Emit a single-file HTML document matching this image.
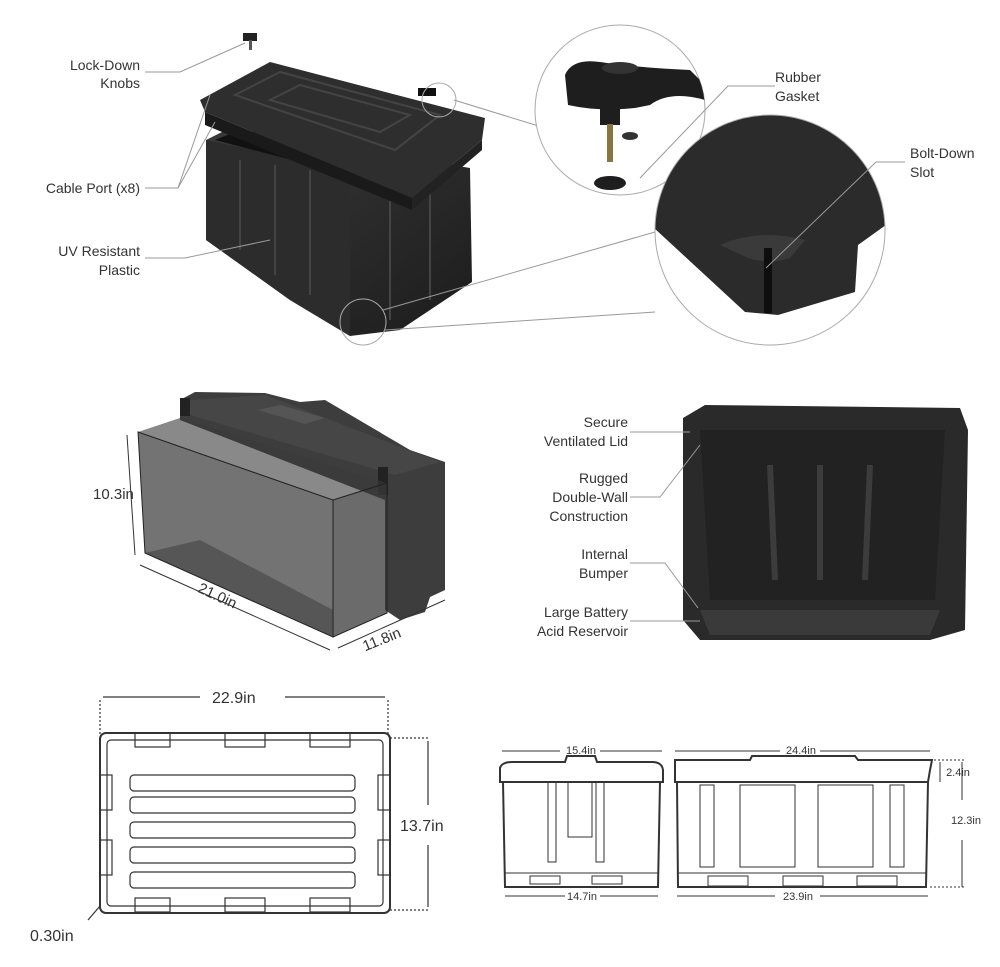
<!DOCTYPE html>
<html><head><meta charset="utf-8"><style>
html,body{margin:0;padding:0;background:#fff;width:1000px;height:967px;overflow:hidden}
svg{display:block}
text{font-family:"Liberation Sans",sans-serif;fill:#333}
</style></head><body>
<svg width="1000" height="967" viewBox="0 0 1000 967">
<defs>
<linearGradient id="g1" x1="0" y1="0" x2="1" y2="1"><stop offset="0" stop-color="#3a3a3a"/><stop offset="1" stop-color="#1c1c1c"/></linearGradient>
<clipPath id="c2"><circle cx="770" cy="230" r="115"/></clipPath>
<clipPath id="c1"><circle cx="620" cy="110" r="85"/></clipPath>
</defs>
<!-- ===== TOP: exploded box ===== -->
<polygon points="206,140 230,128 470,168 472,282 400,330 350,336 290,300 206,240" fill="url(#g1)"/>
<polygon points="206,140 350,170 350,336 290,300 206,240" fill="#2c2c2c"/>
<polygon points="215,140 240,130 455,168 350,175" fill="#111"/>
<g stroke="#444" stroke-width="2"><line x1="240" y1="160" x2="240" y2="250"/><line x1="275" y1="165" x2="275" y2="275"/><line x1="310" y1="170" x2="310" y2="295"/><line x1="390" y1="195" x2="390" y2="320"/><line x1="430" y1="190" x2="430" y2="300"/></g>
<polygon points="200,100 270,62 485,118 482,140 412,198 205,112" fill="#2e2e2e"/>
<polygon points="205,112 412,198 412,210 205,125" fill="#1a1a1a"/>
<polygon points="412,198 482,140 482,150 412,210" fill="#222"/>
<g fill="none" stroke="#444" stroke-width="2"><polygon points="235,95 280,72 440,115 395,150"/><polygon points="270,100 300,85 410,115 380,132"/></g>
<rect x="243" y="33" width="14" height="8" fill="#222"/><rect x="249" y="40" width="3" height="10" fill="#555"/>
<rect x="418" y="88" width="18" height="8" fill="#111"/>
<circle cx="439" cy="100" r="17" fill="none" stroke="#aaa"/>
<circle cx="363" cy="322" r="23" fill="none" stroke="#aaa"/>
<circle cx="358" cy="325" r="8" fill="#222"/>
<g stroke="#999" stroke-width="1" fill="none">
<polyline points="145,72 180,72 245,43"/>
<polyline points="145,188 178,188 210,95"/>
<polyline points="178,188 215,122"/>
<polyline points="145,258 185,258 270,240"/>
<line x1="454" y1="100" x2="545" y2="128"/>
<line x1="383" y1="310" x2="655" y2="232"/>
<line x1="385" y1="330" x2="655" y2="312"/>
</g>
<!-- zoom circle 1 -->
<circle cx="620" cy="110" r="85" fill="#fff" stroke="#aaa"/>
<g clip-path="url(#c1)">
<path d="M565,75 Q572,58 600,62 Q640,68 690,70 L705,85 L705,100 Q670,90 650,105 L635,108 Q600,112 568,105Z" fill="#1e1e1e"/>
<ellipse cx="620" cy="68" rx="18" ry="6" fill="#333"/>
<rect x="600" y="105" width="20" height="20" fill="#1e1e1e"/>
<rect x="607" y="124" width="6" height="38" fill="#8a7440"/>
<ellipse cx="630" cy="136" rx="8" ry="4" fill="#333"/>
<ellipse cx="610" cy="183" rx="16" ry="7" fill="#1e1e1e"/>
</g>
<!-- zoom circle 2 -->
<circle cx="770" cy="230" r="115" fill="#2b2b2b"/>
<g clip-path="url(#c2)">
<path d="M640,215 L745,312 L778,315 L855,292 L858,245 L890,222 L890,350 L640,350Z" fill="#fff"/>
<path d="M720,245 Q760,228 805,240 L790,258 Q770,265 748,258Z" fill="#3a3a3a"/>
<rect x="764" y="248" width="8" height="65" fill="#0e0e0e"/>
</g>
<circle cx="770" cy="230" r="115" fill="none" stroke="#aaa"/>
<g stroke="#999" stroke-width="1" fill="none">
<polyline points="775,86 728,86 640,178"/>
<polyline points="905,162 876,162 766,268"/>
</g>
<g font-size="14" text-anchor="end">
<text x="140" y="70">Lock-Down</text><text x="140" y="88">Knobs</text>
<text x="140" y="193">Cable Port (x8)</text>
<text x="140" y="256">UV Resistant</text><text x="140" y="275">Plastic</text>
</g>
<g font-size="14">
<text x="775" y="82">Rubber</text><text x="775" y="101">Gasket</text>
<text x="910" y="158">Bolt-Down</text><text x="910" y="177">Slot</text>
</g>
<!-- ===== MIDDLE LEFT ===== -->
<polygon points="180,400 195,392 265,393 300,402 325,400 410,450 445,462 445,590 430,597 425,612 400,620 385,610 385,500 180,420" fill="#3d3d3d"/>
<polygon points="190,400 265,395 440,462 395,475 190,415" fill="#464646"/>
<polygon points="258,410 280,405 325,418 305,424" fill="#555"/>
<rect x="180" y="398" width="10" height="18" fill="#222"/>
<rect x="378" y="467" width="10" height="28" fill="#222"/>
<polygon points="138,432 180,418 387,483 333,500" fill="#3a3a3a" fill-opacity="0.6"/>
<polygon points="138,432 333,500 333,637 145,553" fill="#444" fill-opacity="0.75" stroke="#222"/>
<polygon points="333,500 387,483 387,613 333,637" fill="#3a3a3a" fill-opacity="0.75" stroke="#222"/>
<polygon points="145,553 333,637 333,610 200,540" fill="#2a2a2a" fill-opacity="0.4"/>
<g stroke="#333" stroke-width="1" fill="none">
<line x1="127" y1="435" x2="135" y2="555"/><line x1="140" y1="565" x2="330" y2="650"/><line x1="338" y1="648" x2="445" y2="600"/>
</g>
<text x="93" y="499" font-size="15">10.3in</text>
<text x="195" y="600" font-size="15" transform="rotate(25 215 600)">21.0in</text>
<text x="362" y="645" font-size="15" transform="rotate(-22 380 640)">11.8in</text>
<!-- ===== MIDDLE RIGHT ===== -->
<polygon points="683,418 705,405 960,408 968,430 965,630 930,640 700,640 683,620" fill="#2a2a2a"/>
<polygon points="700,430 945,430 935,600 710,600" fill="#222"/>
<g stroke="#3c3c3c" stroke-width="6" fill="none"><line x1="770" y1="465" x2="775" y2="580"/><line x1="820" y1="465" x2="820" y2="580"/><line x1="870" y1="465" x2="865" y2="580"/></g>
<path d="M700,610 L940,610 L930,635 L710,635Z" fill="#3a3a3a"/>
<g stroke="#999" fill="none"><polyline points="630,432 690,432"/><polyline points="630,497 660,497 700,445"/><polyline points="630,563 665,563 698,608"/><polyline points="630,621 700,621"/></g>
<g font-size="14" text-anchor="end">
<text x="628" y="427">Secure</text><text x="628" y="446">Ventilated Lid</text>
<text x="628" y="483">Rugged</text><text x="628" y="502">Double-Wall</text><text x="628" y="521">Construction</text>
<text x="628" y="559">Internal</text><text x="628" y="578">Bumper</text>
<text x="628" y="617">Large Battery</text><text x="628" y="636">Acid Reservoir</text>
</g>
<!-- ===== BOTTOM LEFT top view ===== -->
<g stroke="#333" fill="none" stroke-width="1.2">
<line x1="100" y1="700" x2="100" y2="735" stroke-dasharray="2 2"/><line x1="388" y1="700" x2="388" y2="735" stroke-dasharray="2 2"/>
<line x1="103" y1="697" x2="200" y2="697"/><line x1="285" y1="697" x2="385" y2="697"/>
<line x1="390" y1="738" x2="430" y2="738" stroke-dasharray="2 2"/><line x1="390" y1="910" x2="430" y2="910" stroke-dasharray="2 2"/>
<line x1="428" y1="741" x2="428" y2="805"/><line x1="428" y1="845" x2="428" y2="907"/>
<rect x="100" y="733" width="290" height="180" rx="6" stroke-width="2"/>
<rect x="107" y="740" width="276" height="166" rx="4"/>
<rect x="130" y="775" width="225" height="16" rx="4"/><rect x="130" y="797" width="225" height="16" rx="4"/>
<rect x="130" y="822" width="225" height="16" rx="4"/><rect x="130" y="847" width="225" height="16" rx="4"/>
<rect x="130" y="872" width="225" height="16" rx="4"/>
<rect x="135" y="733" width="35" height="14"/><rect x="225" y="733" width="40" height="14"/><rect x="310" y="733" width="40" height="14"/>
<rect x="135" y="898" width="35" height="14"/><rect x="225" y="898" width="40" height="14"/><rect x="310" y="898" width="40" height="14"/>
<rect x="100" y="775" width="12" height="35"/><rect x="100" y="840" width="12" height="35"/>
<rect x="378" y="775" width="12" height="35"/><rect x="378" y="840" width="12" height="35"/>
<line x1="88" y1="920" x2="100" y2="906"/>
</g>
<text x="212" y="703" font-size="16">22.9in</text>
<text x="400" y="831" font-size="16">13.7in</text>
<text x="30" y="941" font-size="16">0.30in</text>
<!-- ===== BOTTOM RIGHT side views ===== -->
<g stroke="#333" fill="none" stroke-width="1">
<line x1="502" y1="751" x2="560" y2="751"/><line x1="600" y1="751" x2="662" y2="751"/>
<path d="M500,782 L500,768 Q502,762 512,762 L565,762 L567,756 L595,756 L597,762 L652,762 Q662,762 663,770 L663,782Z" stroke-width="2"/>
<path d="M503,782 L505,887 L658,887 L660,782" stroke-width="2"/>
<line x1="505" y1="873" x2="658" y2="873"/>
<rect x="548" y="782" width="8" height="80"/><rect x="596" y="782" width="8" height="80"/>
<rect x="568" y="782" width="24" height="55"/>
<rect x="530" y="876" width="30" height="8"/><rect x="592" y="876" width="30" height="8"/>
<line x1="505" y1="896" x2="565" y2="896"/><line x1="600" y1="896" x2="658" y2="896"/>
<line x1="675" y1="751" x2="780" y2="751"/><line x1="820" y1="751" x2="930" y2="751"/>
<path d="M675,760 L750,760 L752,756 L855,756 L858,760 L932,760 L930,770 L928,782 L675,782Z" stroke-width="2"/>
<path d="M677,782 L678,887 L926,887 L928,782" stroke-width="2"/>
<line x1="678" y1="873" x2="926" y2="873"/>
<rect x="700" y="785" width="14" height="82"/><rect x="740" y="785" width="55" height="82"/>
<rect x="818" y="785" width="55" height="82"/><rect x="890" y="785" width="14" height="82"/>
<rect x="708" y="876" width="40" height="10"/><rect x="783" y="876" width="40" height="10"/><rect x="857" y="876" width="40" height="10"/>
<line x1="677" y1="896" x2="775" y2="896"/><line x1="820" y1="896" x2="928" y2="896"/>
<line x1="940" y1="762" x2="940" y2="782"/><line x1="962" y1="762" x2="962" y2="800"/><line x1="962" y1="840" x2="962" y2="887"/>
<line x1="930" y1="760" x2="966" y2="760" stroke-dasharray="2 2"/><line x1="930" y1="887" x2="966" y2="887" stroke-dasharray="2 2"/>
</g>
<g font-size="11" text-anchor="middle">
<text x="581" y="754">15.4in</text><text x="582" y="900">14.7in</text>
<text x="801" y="754">24.4in</text><text x="798" y="900">23.9in</text>
<text x="958" y="776">2.4in</text><text x="966" y="824">12.3in</text>
</g>
</svg>
</body></html>
